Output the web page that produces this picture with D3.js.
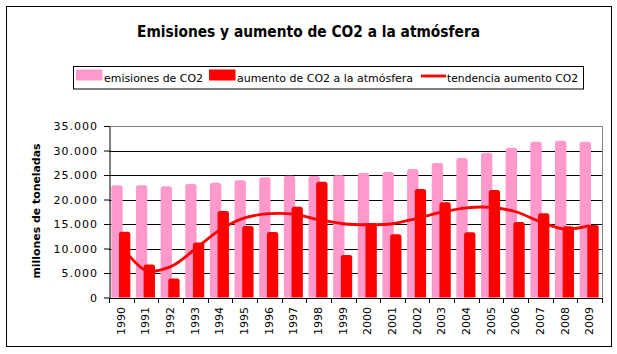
<!DOCTYPE html>
<html>
<head>
<meta charset="utf-8">
<script src="https://cdn.jsdelivr.net/npm/d3@7"></script>
<style>
  html, body { margin: 0; padding: 0; background: #fff; }
  svg { display: block; }
  text { font-family: "DejaVu Sans", sans-serif; fill: #000; }
</style>
</head>
<body>
<svg id="chart" width="617" height="354"></svg>
<script>
// ---- data ----
const years = ["1990","1991","1992","1993","1994","1995","1996","1997","1998","1999",
               "2000","2001","2002","2003","2004","2005","2006","2007","2008","2009"];
const emisiones = [22900, 22900, 22700, 23150, 23400, 23950, 24550, 24850, 24800, 24950,
                   25400, 25600, 26250, 27450, 28450, 29550, 30550, 31800, 32000, 31800];
const aumento = [13400, 6750, 3900, 11200, 17650, 14600, 13350, 18500, 23600, 8650,
                 15200, 12900, 22150, 19450, 13300, 21950, 15400, 17200, 14550, 14800];
const tendencia = [10600, 5500, 6300, 9900, 13800, 16250, 17100, 17000, 15900, 15050,
                   14850, 15050, 16150, 17400, 18300, 18400, 17500, 15450, 13950, 14650];
const yTicks = [0, 5000, 10000, 15000, 20000, 25000, 30000, 35000];
const seriesNames = ["emisiones de CO2", "aumento de CO2 a la atmósfera", "tendencia aumento CO2"];
const chartTitle = "Emisiones y aumento de CO2 a la atmósfera";
const yTitle = "millones de toneladas";

// ---- layout ----
const PINK = "#FF99CC", RED = "#FF0000";
const plot = { left: 109, right: 602, top: 126, bottom: 297.5 };
const svg = d3.select("#chart");

// outer border
svg.append("rect").attr("x", 6.5).attr("y", 6.5).attr("width", 605).attr("height", 340)
  .attr("fill", "#fff").attr("stroke", "#000").attr("stroke-width", 1);

// title
svg.append("text").attr("x", 308.5).attr("y", 37).attr("text-anchor", "middle")
  .attr("font-size", 15).attr("font-weight", "bold")
  .attr("textLength", 343).attr("lengthAdjust", "spacingAndGlyphs")
  .text(chartTitle);

// scales
const x = d3.scaleBand().domain(years).range([plot.left, plot.right]).paddingInner(0).paddingOuter(0);
const y = d3.scaleLinear().domain([0, 35000]).range([plot.bottom, plot.top]);
const bw = x.bandwidth();

// gridlines
svg.append("g").selectAll("line").data(yTicks.filter(d => d > 0 && d < 35000)).join("line")
  .attr("x1", plot.left).attr("x2", plot.right)
  .attr("y1", d => Math.round(y(d)) + 0.5).attr("y2", d => Math.round(y(d)) + 0.5)
  .attr("stroke", "#000").attr("stroke-width", 1);

// plot area border (top + right, gray)
svg.append("path")
  .attr("d", `M${plot.left},${Math.round(y(35000)) + 0.5}H${plot.right + 0.5}V${plot.bottom}`)
  .attr("fill", "none").attr("stroke", "#808080").attr("stroke-width", 1);

// rounded-top bar path
function barPath(x0, w, yTop, yBot, r) {
  r = Math.min(r, w / 2, (yBot - yTop));
  return `M${x0},${yBot}V${yTop + r}Q${x0},${yTop} ${x0 + r},${yTop}H${x0 + w - r}Q${x0 + w},${yTop} ${x0 + w},${yTop + r}V${yBot}Z`;
}

const pinkOff = bw * 0.093, redOff = bw * 0.405, barW = bw * 0.46;

svg.append("g").selectAll("path").data(years).join("path")
  .attr("d", (d, i) => barPath(x(d) + pinkOff, barW, y(emisiones[i]), y(0), 2.5))
  .attr("fill", PINK);

svg.append("g").selectAll("path").data(years).join("path")
  .attr("d", (d, i) => barPath(x(d) + redOff, barW, y(aumento[i]), y(0), 2.5))
  .attr("fill", RED);

// trend line
const line = d3.line()
  .x((d, i) => x(years[i]) + bw / 2)
  .y(d => y(d))
  .curve(d3.curveCatmullRom.alpha(0.5));
svg.append("path").datum(tendencia).attr("d", line)
  .attr("fill", "none").attr("stroke", RED).attr("stroke-width", 2.8);

// y axis
const yAxis = d3.axisLeft(y).tickValues(yTicks).tickSize(5.5).tickSizeOuter(0).tickPadding(6)
  .tickFormat(d => d3.format(",")(d).replace(/,/g, "."));
const gy = svg.append("g").attr("transform", `translate(${plot.left + 0.5},0)`).call(yAxis);
gy.select(".domain").attr("stroke", "#000");
gy.selectAll(".tick line").attr("stroke", "#000");
gy.selectAll(".tick text").attr("font-family", "DejaVu Sans, sans-serif").attr("font-size", 11)
  .attr("letter-spacing", 1).attr("fill", "#000");

// x axis line
svg.append("line").attr("x1", plot.left).attr("x2", plot.right + 0.5)
  .attr("y1", Math.round(plot.bottom) + 0.5).attr("y2", Math.round(plot.bottom) + 0.5)
  .attr("stroke", "#000");
// x ticks at band boundaries
const boundaries = years.map(d => x(d)).concat([x(years[years.length - 1]) + bw]);
svg.append("g").selectAll("line").data(boundaries).join("line")
  .attr("x1", d => Math.round(d) + 0.5).attr("x2", d => Math.round(d) + 0.5)
  .attr("y1", Math.round(plot.bottom)).attr("y2", Math.round(plot.bottom) + 5)
  .attr("stroke", "#000");
// x labels (rotated)
svg.append("g").selectAll("text").data(years).join("text")
  .attr("transform", d => `translate(${x(d) + bw / 2},${307}) rotate(-90)`)
  .attr("text-anchor", "end").attr("dominant-baseline", "central")
  .attr("font-size", 11).text(d => d);

// y title
svg.append("text").attr("transform", "translate(36,211) rotate(-90)")
  .attr("text-anchor", "middle").attr("dominant-baseline", "central")
  .attr("font-size", 10).attr("font-weight", "bold")
  .attr("textLength", 135).attr("lengthAdjust", "spacingAndGlyphs")
  .text(yTitle);

// legend
const lg = svg.append("g");
lg.append("rect").attr("x", 73.5).attr("y", 66.5).attr("width", 510).attr("height", 22.5)
  .attr("fill", "#fff").attr("stroke", "#000");
const legendItems = [
  { name: seriesNames[0], type: "bar", color: PINK, sx: 76, tx: 104, tw: 99 },
  { name: seriesNames[1], type: "bar", color: RED, sx: 209, tx: 237, tw: 176 },
  { name: seriesNames[2], type: "line", color: RED, sx: 421, tx: 447, tw: 131 }
];
legendItems.forEach(it => {
  if (it.type === "bar") {
    lg.append("rect").attr("x", it.sx).attr("y", 69.5).attr("width", 26.5).attr("height", 11).attr("fill", it.color);
  } else {
    lg.append("line").attr("x1", it.sx).attr("x2", it.sx + 25).attr("y1", 76).attr("y2", 76)
      .attr("stroke", it.color).attr("stroke-width", 2.8);
  }
  lg.append("text").attr("x", it.tx).attr("y", 82).attr("font-size", 11)
    .attr("textLength", it.tw).attr("lengthAdjust", "spacingAndGlyphs").text(it.name);
});
</script>
</body>
</html>
